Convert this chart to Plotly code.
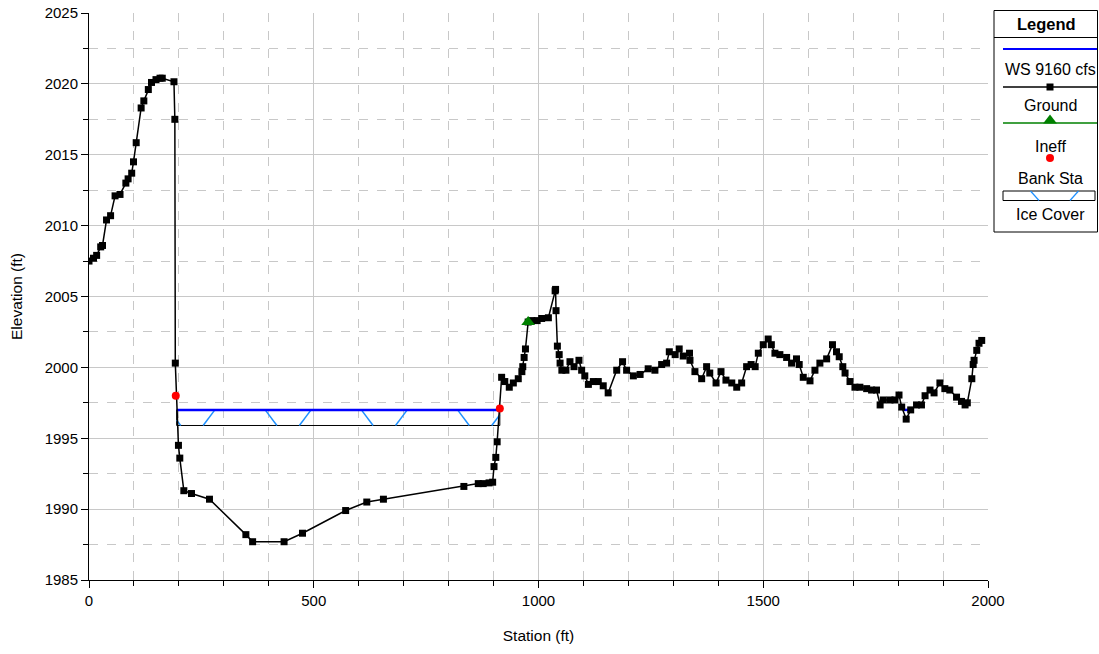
import plotly.graph_objects as go

# ---------------- data ----------------
ground_station = [0, 10, 17, 26, 30, 39, 48, 58, 69, 82, 87, 95, 99, 105, 116, 122, 132, 139, 149, 158, 163,
                  189, 191, 192, 199, 202, 211, 228, 268, 349, 364, 434, 475, 571, 618, 655, 834, 866, 877,
                  890, 898, 901, 905, 908, 918, 925, 935, 944, 955, 963, 965, 968, 971, 977, 985, 997, 1007,
                  1022, 1037, 1038, 1039, 1042, 1046, 1048, 1052, 1061, 1070, 1079, 1090, 1096, 1103, 1111,
                  1122, 1133, 1144, 1155, 1174, 1187, 1196, 1211, 1226, 1244, 1259, 1274, 1285, 1291, 1304,
                  1313, 1322, 1336, 1337, 1348, 1363, 1374, 1381, 1395, 1406, 1417, 1430, 1441, 1452, 1463,
                  1473, 1482, 1489, 1500, 1511, 1518, 1526, 1537, 1552, 1563, 1574, 1580, 1589, 1604, 1615,
                  1626, 1641, 1654, 1663, 1669, 1677, 1682, 1693, 1704, 1715, 1730, 1741, 1752, 1760, 1767,
                  1782, 1793, 1802, 1808, 1818, 1828, 1841, 1852, 1860, 1871, 1880, 1893, 1904, 1915, 1930,
                  1941, 1949, 1954, 1964, 1967, 1969, 1975, 1980, 1986]
ground_elev = [2007.5, 2007.7, 2007.9, 2008.5, 2008.6, 2010.4, 2010.7, 2012.1, 2012.2, 2013.0, 2013.3, 2013.7,
               2014.5, 2015.85, 2018.3, 2018.8, 2019.6, 2020.1, 2020.3, 2020.4, 2020.4,
               2020.15, 2017.5, 2000.3, 1994.5, 1993.6, 1991.3, 1991.1, 1990.7, 1988.2, 1987.7, 1987.7,
               1988.3, 1989.9, 1990.5, 1990.7, 1991.6, 1991.8, 1991.8,
               1991.85, 1991.9, 1993.0, 1993.65, 1994.75, 1999.3, 1999.0, 1998.6, 1998.9, 1999.2, 1999.7,
               2000.05, 2000.7, 2001.3, 2003.2, 2003.3, 2003.3, 2003.45,
               2003.5, 2005.4, 2005.5, 2004.0, 2001.5, 2000.9, 2000.3, 1999.8, 1999.8, 2000.4, 2000.05,
               2000.5, 1999.8, 1999.4, 1998.8,
               1999.0, 1999.0, 1998.7, 1998.2, 1999.8, 2000.4, 1999.8, 1999.4, 1999.5, 1999.9, 1999.8,
               2000.2, 2000.3, 2001.1, 2000.9,
               2001.3, 2000.8, 2001.0, 2000.5, 1999.7, 1999.2, 2000.05, 1999.6, 1998.9, 1999.7, 1999.1,
               1998.9, 1998.6, 1998.9, 2000.05,
               2000.2, 2000.05, 2001.0, 2001.6, 2002.0, 2001.6, 2001.0, 2000.9, 2000.7, 2000.3, 2000.6,
               2000.2, 1999.3, 1999.05, 1999.8,
               2000.3, 2000.6, 2001.6, 2001.1, 2000.75, 2000.05, 1999.6, 1999.0, 1998.6, 1998.6, 1998.5,
               1998.4, 1998.4, 1997.35, 1997.7,
               1997.7, 1997.7, 1998.05, 1997.2, 1996.35, 1997.0, 1997.35, 1997.35, 1998.0, 1998.4, 1998.2,
               1998.9, 1998.5, 1998.4, 1997.9,
               1997.6, 1997.35, 1997.5, 1999.2, 2000.2, 2000.5, 2001.2, 2001.7, 2001.9]

bank_station = [193, 914]
bank_elev = [1998.0, 1997.1]

ineff_station = [977]
ineff_elev = [2003.2]

ws_elev = 1997.0
ws_start = [195, 1812]
ws_end = [914, 1833]

ice_start = 195
ice_end = 914
ice_top = 1997.0
ice_bottom = 1995.9

legend_labels = ["WS 9160 cfs", "Ground", "Ineff", "Bank Sta", "Ice Cover"]

# ---------------- styling ----------------
FONT = "Liberation Sans, Arial, sans-serif"
ICE_BLUE = "#1E90FF"
GRID = "#c8c8c8"

fig = go.Figure()

# ice cover box
fig.add_trace(go.Scatter(
    x=[ice_start, ice_end, ice_end, ice_start, ice_start],
    y=[ice_top, ice_top, ice_bottom, ice_bottom, ice_top],
    mode="lines", line=dict(color="black", width=1), hoverinfo="skip", showlegend=False))

# ice hatch (zig-zag pattern, generated from ice extent)
period, slant, offset = 214.0, 26.0, 138.0
hx, hy = [], []
base = 254.0
while base - period > ice_start - period - slant:
    base -= period
k = base
while k < ice_end:
    for (xa, ya, xb, yb) in [(k, ice_bottom, k + slant, ice_top),
                             (k + offset, ice_top, k + offset + slant, ice_bottom)]:
        lo, hi = max(xa, ice_start), min(xb, ice_end)
        if hi > lo:
            def yat(x):
                return ya + (yb - ya) * (x - xa) / (xb - xa)
            hx += [lo, hi, None]
            hy += [yat(lo), yat(hi), None]
    k += period
fig.add_trace(go.Scatter(x=hx, y=hy, mode="lines", line=dict(color=ICE_BLUE, width=1.5),
                         hoverinfo="skip", showlegend=False))

# water surface
wx, wy = [], []
for s, e in zip(ws_start, ws_end):
    wx += [s, e, None]
    wy += [ws_elev, ws_elev, None]
fig.add_trace(go.Scatter(x=wx, y=wy, mode="lines", line=dict(color="#0000FF", width=2.5),
                         name=legend_labels[0], showlegend=False))

# ground
fig.add_trace(go.Scatter(x=ground_station, y=ground_elev, mode="lines+markers",
                         line=dict(color="black", width=1.5),
                         marker=dict(symbol="square", size=7, color="black"),
                         name=legend_labels[1], showlegend=False))

# ineffective
fig.add_trace(go.Scatter(x=ineff_station, y=ineff_elev, mode="markers",
                         marker=dict(symbol="triangle-up", size=12, color="#008000"),
                         name=legend_labels[2], showlegend=False))

# bank stations
fig.add_trace(go.Scatter(x=bank_station, y=bank_elev, mode="markers",
                         marker=dict(symbol="circle", size=8, color="#FF0000"),
                         name=legend_labels[3], showlegend=False))

# ---------------- layout geometry (body margin removed via post_script) ----------------
W, H = 1099, 654
ml, mt = 89, 8
plot_bottom = 580
mb = H - plot_bottom
pw = W - ml
ph = H - mt - mb

# ---------------- custom legend (axis x2/y2 in screen-pixel units) ----------------
L, R, T, B = 994, 1097.5, 10.5, 232
fig.add_shape(type="rect", xref="x2", yref="y2", x0=L, x1=R, y0=T, y1=B,
              line=dict(color="black", width=1), fillcolor="white", layer="below")
fig.add_shape(type="line", xref="x2", yref="y2", x0=L, x1=R, y0=37.5, y1=37.5,
              line=dict(color="black", width=1))
fig.add_annotation(xref="x2", yref="y2", x=1046, y=24, text="<b>Legend</b>", showarrow=False,
                   font=dict(family=FONT, size=16.5, color="black"))
lx0, lx1, lxc = 1003, 1097, 1050
fig.add_trace(go.Scatter(x=[lx0, lx1], y=[49, 49], mode="lines", line=dict(color="#0000FF", width=2),
                         xaxis="x2", yaxis="y2", showlegend=False, hoverinfo="skip"))
fig.add_trace(go.Scatter(x=[lx0, lx1], y=[87, 87], mode="lines", line=dict(color="black", width=1.5),
                         xaxis="x2", yaxis="y2", showlegend=False, hoverinfo="skip"))
fig.add_trace(go.Scatter(x=[lxc], y=[87], mode="markers", marker=dict(symbol="square", size=7, color="black"),
                         xaxis="x2", yaxis="y2", showlegend=False, hoverinfo="skip"))
fig.add_trace(go.Scatter(x=[lx0, lx1], y=[123, 123], mode="lines", line=dict(color="#008000", width=1.5),
                         xaxis="x2", yaxis="y2", showlegend=False, hoverinfo="skip"))
fig.add_trace(go.Scatter(x=[lxc], y=[120.5], mode="markers",
                         marker=dict(symbol="triangle-up", size=12, color="#008000"),
                         xaxis="x2", yaxis="y2", showlegend=False, hoverinfo="skip"))
fig.add_trace(go.Scatter(x=[lxc], y=[158], mode="markers", marker=dict(symbol="circle", size=8, color="#FF0000"),
                         xaxis="x2", yaxis="y2", showlegend=False, hoverinfo="skip"))
fig.add_trace(go.Scatter(x=[lx0, 1095, 1095, lx0, lx0], y=[191, 191, 200.5, 200.5, 191], mode="lines",
                         line=dict(color="black", width=1),
                         xaxis="x2", yaxis="y2", showlegend=False, hoverinfo="skip"))
fig.add_trace(go.Scatter(x=[1030.5, 1039, None, 1070, 1078.5], y=[191, 200.5, None, 200.5, 191], mode="lines",
                         line=dict(color=ICE_BLUE, width=1.2),
                         xaxis="x2", yaxis="y2", showlegend=False, hoverinfo="skip"))
for lab, ypx in zip(legend_labels, [69, 105, 146, 178, 214]):
    fig.add_annotation(xref="x2", yref="y2", x=lxc, y=ypx, text=lab, showarrow=False,
                       font=dict(family=FONT, size=16, color="black"))

# ---------------- layout ----------------
fig.update_layout(
    width=W, height=H,
    margin=dict(l=ml, r=0, t=mt, b=mb, pad=0, autoexpand=False),
    paper_bgcolor="white", plot_bgcolor="white",
    font=dict(family=FONT, size=15, color="black"),
    showlegend=False,
    xaxis=dict(domain=[0, 899 / pw], range=[0, 2000], dtick=500, tick0=0, automargin=False,
               showgrid=True, gridcolor=GRID, gridwidth=1, ticklabeloverflow="allow",
               showline=True, linecolor="black", linewidth=1,
               ticks="outside", ticklen=7, tickcolor="black",
               minor=dict(dtick=100, showgrid=True, gridcolor=GRID, griddash="dash",
                          ticks="outside", ticklen=5, tickcolor="black"),
               zeroline=False,
               title=dict(text="Station (ft)", font=dict(size=15.5), standoff=22),
               tickfont=dict(size=15)),
    yaxis=dict(domain=[0, 567 / ph], range=[1985, 2025], dtick=5, tick0=1985, automargin=False,
               showgrid=True, gridcolor=GRID, gridwidth=1, ticklabeloverflow="allow",
               showline=True, linecolor="black", linewidth=1,
               ticks="outside", ticklen=7, tickcolor="black",
               minor=dict(dtick=2.5, showgrid=True, gridcolor=GRID, griddash="dash",
                          ticks="outside", ticklen=5, tickcolor="black"),
               zeroline=False,
               title=dict(text="Elevation (ft)", font=dict(size=15.5), standoff=18),
               tickfont=dict(size=15)),
    xaxis2=dict(domain=[900 / pw, 1.0], range=[ml + 900, W], visible=False, fixedrange=True),
    yaxis2=dict(domain=[0, 1], range=[H - mb, mt], anchor="x2", visible=False, fixedrange=True),
)

fig.write_html("out.html", config={"displayModeBar": False},
               post_script="document.body.style.margin='0';")
